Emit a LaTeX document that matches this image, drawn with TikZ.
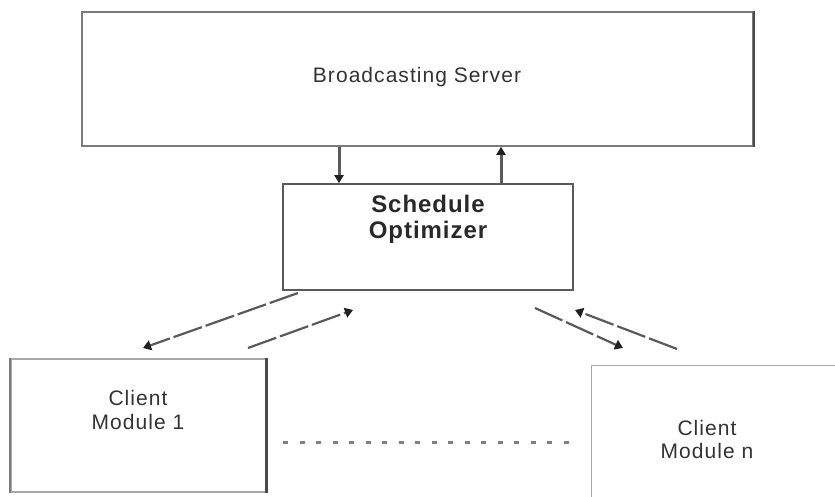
\documentclass[tikz,border=0pt]{standalone}
\usepackage{fontspec}
\setmainfont{Liberation Sans}
\newfontfamily\lblfont[LetterSpace=5]{Liberation Sans}
\newfontfamily\boldlbl[LetterSpace=4]{Liberation Sans Bold}
\usetikzlibrary{arrows.meta}
\definecolor{edgegray}{HTML}{7A7A7A}
\definecolor{darkedge}{HTML}{4A4A4A}
\definecolor{lightedge}{HTML}{A8A8A8}
\definecolor{arrowgray}{HTML}{5A5A5A}
\definecolor{tipgray}{HTML}{202020}
\definecolor{txtgray}{HTML}{333333}
\tikzset{
  box/.style={draw=edgegray, line width=1.6pt, fill=white, inner sep=0pt},
  lbl/.style={font=\lblfont\fontsize{21}{24}\selectfont, text=txtgray, inner sep=0pt, anchor=base},
  boldlbl/.style={font=\boldlbl\fontsize{24}{27}\selectfont, text=txtgray!80!black, inner sep=0pt, anchor=base},
  solidflow/.style={draw=arrowgray, line width=3pt, -{Triangle[length=8pt,width=9pt,color=tipgray]}},
  dashflow/.style={draw=arrowgray, line width=2.2pt, dash pattern=on 30pt off 4pt,
                   -{Triangle[length=8pt,width=10pt,color=tipgray]}},
  dotrow/.style={draw=gray, line width=3pt, dash pattern=on 5pt off 11.5pt}
}
\begin{document}
\begin{tikzpicture}[x=1pt, y=-1pt]
  \useasboundingbox (0,0) rectangle (835,497);
  \clip (0,0) rectangle (835,497);

  % boxes
  \node[box, minimum width=671pt, minimum height=134pt] (srv) at (417.5,79) {};
  \node[box, draw=arrowgray, minimum width=290pt, minimum height=106pt] (opt) at (428,237) {};
  \node[box, draw=lightedge, minimum width=255pt, minimum height=133pt] (cl1) at (138.5,425.5) {};
  \node[box, draw=lightedge, line width=1pt, minimum width=280pt, minimum height=160pt] (cln) at (731,445) {};

  % darker right-hand edges
  \draw[darkedge, line width=2.2pt] (srv.north east) -- (srv.south east);
  \draw[darkedge, line width=3pt] (cl1.north east) -- (cl1.south east);
  \draw[edgegray, line width=1.6pt] (cl1.north west) -- (cl1.south west);

  % labels
  \node[lbl] (srvtxt) at (417,83) {Broadcasting Server};
  \node[boldlbl] (opta) at (428,212) {Schedule};
  \node[boldlbl] (optb) at (428,238) {Optimizer};
  \node[lbl] (c1a) at (138,405) {Client};
  \node[lbl] (c1b) at (138,429) {Module 1};
  \node[lbl] (cna) at (707,435) {Client};
  \node[lbl] (cnb) at (707,458) {Module n};

  % server <-> optimizer
  \coordinate (dnx) at (339,0);
  \coordinate (upx) at (501,0);
  \draw[solidflow] (srv.south -| dnx) -- (opt.north -| dnx);
  \draw[solidflow] (opt.north -| upx) -- (srv.south -| upx);

  % optimizer <-> client modules
  \coordinate (a1s) at (298,293);
  \coordinate (a1e) at (143,348);
  \coordinate (a2s) at (248,348);
  \coordinate (a2e) at (353,310);
  \coordinate (a3s) at (535,308);
  \coordinate (a3e) at (623,348);
  \coordinate (a4s) at (677,349);
  \coordinate (a4e) at (575,310);
  \draw[dashflow] (a1s) -- (a1e);
  \draw[dashflow] (a2s) -- (a2e);
  \draw[dashflow] (a3s) -- (a3e);
  \draw[dashflow] (a4s) -- (a4e);

  % further client modules in between
  \coordinate (d1) at (283,442);
  \coordinate (d2) at (575,442);
  \draw[dotrow] (d1) -- (d2);
\end{tikzpicture}
\end{document}
